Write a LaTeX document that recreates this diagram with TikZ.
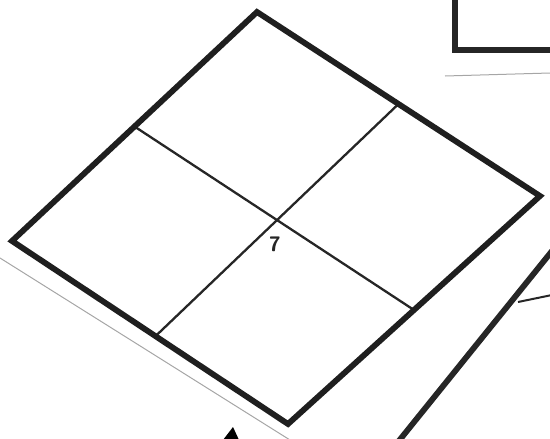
\documentclass[tikz,border=0pt]{standalone}
\usetikzlibrary{calc}
\begin{document}
\begin{tikzpicture}[x=1pt,y=-1pt,
  thick border/.style={line width=5.8pt,line join=miter,black!88},
  inner line/.style={line width=2.3pt,black!85},
  thin gray/.style={line width=1pt,gray!70}]
\useasboundingbox (0,0) rectangle (550,439);
\coordinate (T) at (257,12);
\coordinate (R) at (540,196);
\coordinate (B) at (288,424);
\coordinate (L) at (12,241);
% inner cross
\draw[inner line] ($(T)!0.5!(L)$) -- ($(R)!0.5!(B)$);
\draw[inner line] ($(T)!0.5!(R)$) -- ($(L)!0.52!(B)$);
\draw[thick border] (T) -- (R) -- (B) -- (L) -- cycle;
\node[font=\sffamily\bfseries\fontsize{21}{21}\selectfont,text=black!85] (n7) at (275,244) {7};
% top-right rectangle
\coordinate (r1) at (455,-5);
\coordinate (r2) at (455,50);
\coordinate (r3) at (555,50);
\draw[line width=6.5pt,black!85] (r1) -- (r2) -- (r3);
\coordinate (g1) at (445,76);
\coordinate (g2) at (550,73);
\draw[thin gray] (g1) -- (g2);
% right thick line
\coordinate (s1) at (552,251);
\coordinate (s2) at (398,442);
\draw[line width=5.8pt,black!85] (s1) -- (s2);
\coordinate (h1) at (518,302);
\coordinate (h2) at (552,295);
\draw[line width=2pt,black!85] (h1) -- (h2);
% bottom-left thin line
\coordinate (b1) at (0,258);
\coordinate (b2) at (290,440);
\draw[thin gray] (b1) -- (b2);
% small arrow tip at bottom
\coordinate (a1) at (233,427);
\fill[black] (a1) -- (239,440) -- (223,440) -- cycle;
\end{tikzpicture}
\end{document}
